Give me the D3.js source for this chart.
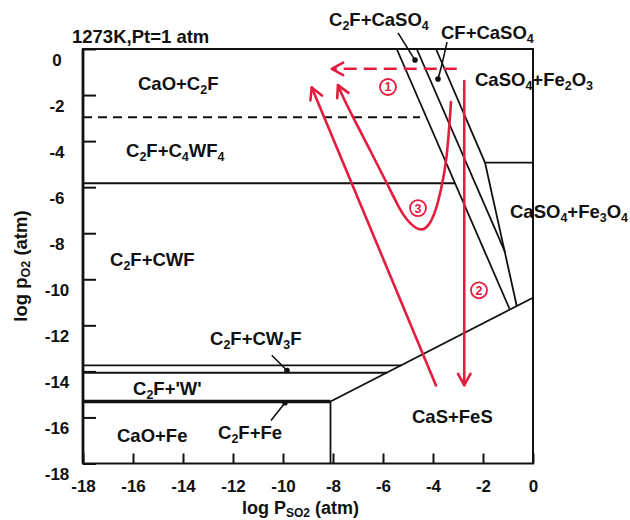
<!DOCTYPE html>
<html>
<head>
<meta charset="utf-8">
<script src="https://cdn.jsdelivr.net/npm/d3@7"></script>
<style>
  html, body { margin: 0; padding: 0; background: #fff; }
  svg { display: block; }
  text { font-family: "Liberation Sans", Arial, Helvetica, sans-serif; font-weight: bold; fill: #111; }
</style>
</head>
<body>
<svg id="chart" width="630" height="520"></svg>
<script>
// ---- Axis definitions (log units) ----
const xDomain = [-18, 0];
const yDomain = [-18, 0];
const xTickValues = [-18, -16, -14, -12, -10, -8, -6, -4, -2, 0];
const yTickValues = [0, -2, -4, -6, -8, -10, -12, -14, -16, -18];

// ---- Phase boundaries: [log pSO2, log pO2] ----
const bCaO_C4WF4   = [[-18, -2.96], [-4.52, -2.96]];             // dashed
const bC4WF4_CWF   = [[-18, -5.83], [-3.12, -5.83]];
const bCWF_CW3F    = [[-18, -13.74], [-5.26, -13.74]];
const bCW3F_W      = [[-18, -14.06], [-5.83, -14.06]];
const bW_Fe        = [[-18, -15.31], [-8.1, -15.31]];            // heavy
const bCaO_C2F_Fe  = [[-8.1, -15.31], [-8.1, -18]];
const bSulfide     = [[-8.1, -15.31], [0, -10.8]];
const bC2F_CaSO4   = [[-5.45, 0], [-0.94, -11.28]];
const bCF_CaSO4    = [[-4.65, 0], [-1.12, -8.81]];
const bCaSO4_Fe2O3 = [[-3.88, 0], [-1.92, -4.93], [-0.65, -11.16]];
const bFe2O3_Fe3O4 = [[-1.92, -4.93], [0, -4.93]];

// ---- Reaction paths ----
const path1 = [[-3.05, -0.86], [-8.05, -0.86]];
const path2 = [[-2.75, -1.39], [-2.75, -14.6]];
const pathLeft = [[-3.88, -14.61], [-8.85, -1.67]];
const path3 = [[-3.28, -2.30], [-3.44, -4.83], [-3.68, -6.13], [-3.88, -7.00], [-4.12, -7.61],
               [-4.40, -7.89], [-4.72, -7.78], [-5.04, -7.43], [-5.32, -7.00], [-5.84, -5.83],
               [-6.52, -4.39], [-7.20, -2.96], [-7.60, -2.09], [-7.80, -1.57]];

// ---- Field names ----
const fieldNames = ["CaO+C{2}F", "C{2}F+C{4}WF{4}", "C{2}F+CWF", "C{2}F+CW{3}F", "C{2}F+'W'",
                    "CaO+Fe", "C{2}F+Fe", "CaS+FeS", "CaSO{4}+Fe{3}O{4}", "CaSO{4}+Fe{2}O{3}",
                    "C{2}F+CaSO{4}", "CF+CaSO{4}"];
const pathNames = ["1", "2", "3"];
const titleText = "1273K,Pt=1 atm";
const xTitle = "log P{SO2} (atm)";
const yTitle = "log p{O2} (atm)";

// ---- Layout ----
const svg = d3.select("#chart");
const x = d3.scaleLinear().domain(xDomain).range([83, 533]);
const y = d3.scaleLinear().domain(yDomain).range([463.5, 49]);
const RED = "#e41c3d";

const fieldPos = [[-15.8, -1.76], [-16.28, -4.67], [-16.92, -9.43], [-12.92, -12.87], [-16.0, -15.04],
                  [-16.64, -17.07], [-12.6, -16.93], [-4.84, -16.25], [-0.92, -7.32], [-2.32, -1.62],
                  [-8.16, 1.0], [-3.68, 0.43]];
const pathLabelPos = [[-5.8, -1.65], [-2.16, -10.48], [-4.6, -6.91]];
const leaders = [
  [[-5.4, 0.70], [-4.72, -0.48]],
  [[-3.44, 0.30], [-3.66, -0.74], [-3.8, -1.30]],
  [[-10.45, -13.30], [-9.84, -13.96]],
  [[-10.48, -16.13], [-9.92, -15.36]]
];

const line = d3.line().x(d => x(d[0])).y(d => y(d[1]));

// writes text with {…} parts as subscripts
function richText(sel, str, size, subSize, shift = 4) {
  const parts = str.split(/(\{[^}]*\})/).filter(s => s.length);
  let lowered = false;
  parts.forEach(p => {
    if (p.startsWith("{")) {
      sel.append("tspan").attr("font-size", subSize).attr("dy", lowered ? 0 : shift)
         .text(p.slice(1, -1));
      lowered = true;
    } else {
      sel.append("tspan").attr("font-size", size).attr("dy", lowered ? -shift : 0).text(p);
      lowered = false;
    }
  });
}

// ---- Axes ----
const xAxis = svg.append("g").attr("transform", `translate(0,${y(-18)})`)
  .call(d3.axisBottom(x).tickValues(xTickValues).tickSize(-10).tickFormat(d3.format("d")));
xAxis.select(".domain").remove();
xAxis.selectAll("line").attr("stroke", "#111").attr("stroke-width", 2);
xAxis.selectAll("text").attr("y", 28.5).attr("dy", 0).attr("font-size", 17)
  .attr("font-family", "Liberation Sans, Arial, sans-serif").attr("font-weight", "bold").attr("fill", "#111")
  .text(d => d === 0 ? "0" : String(d));

const yAxis = svg.append("g").attr("transform", `translate(${x(-18)},0)`)
  .call(d3.axisLeft(y).tickValues(yTickValues).tickSize(-13).tickFormat(d3.format("d")));
yAxis.select(".domain").remove();
yAxis.selectAll("line").attr("stroke", "#111").attr("stroke-width", 2);
yAxis.selectAll("text").attr("x", -26).attr("dy", 0).attr("y", 16).attr("text-anchor", "middle")
  .attr("font-size", 17).attr("font-family", "Liberation Sans, Arial, sans-serif")
  .attr("font-weight", "bold").attr("fill", "#111")
  .text(d => d === 0 ? "0" : String(d));

// ---- Frame ----
svg.append("rect").attr("x", x(-18)).attr("y", y(0))
  .attr("width", x(0) - x(-18)).attr("height", y(-18) - y(0))
  .attr("fill", "none").attr("stroke", "#111").attr("stroke-width", 2);
svg.append("line").attr("x1", x(-18)).attr("x2", x(-18)).attr("y1", y(0)).attr("y2", y(-18))
  .attr("stroke", "#111").attr("stroke-width", 2.8);

// ---- Phase boundaries ----
const g = svg.append("g").attr("fill", "none").attr("stroke", "#111");
[bC4WF4_CWF, bCWF_CW3F, bCW3F_W, bCaO_C2F_Fe, bSulfide, bC2F_CaSO4, bCF_CaSO4,
 bCaSO4_Fe2O3, bFe2O3_Fe3O4].forEach(b => g.append("path").attr("d", line(b)).attr("stroke-width", 1.8));
g.append("path").attr("d", line(bCaO_C4WF4)).attr("stroke-width", 2).attr("stroke-dasharray", "9,6");
g.append("path").attr("d", line(bW_Fe)).attr("stroke-width", 3.6);

// ---- Label leaders ----
leaders.forEach(l => {
  g.append("path").attr("d", d3.line().x(d => x(d[0])).y(d => y(d[1])).curve(d3.curveCatmullRom)(l))
    .attr("stroke-width", 1.6);
  const e = l[l.length - 1];
  svg.append("circle").attr("cx", x(e[0])).attr("cy", y(e[1])).attr("r", 2.8).attr("fill", "#111");
});

// ---- Field labels ----
fieldNames.forEach((n, i) => {
  const t = svg.append("text").attr("x", x(fieldPos[i][0])).attr("y", y(fieldPos[i][1]))
    .attr("font-size", 18.5);
  richText(t, n, 18.5, 12.5);
});

// ---- Title and axis titles ----
svg.append("text").attr("x", 72).attr("y", 42.5).attr("font-size", 18.5).text(titleText);
const xt = svg.append("text").attr("x", 242).attr("y", 514).attr("font-size", 18);
richText(xt, xTitle, 18, 12, 2.5);
const yt = svg.append("text").attr("transform", "translate(27,266) rotate(-90)")
  .attr("text-anchor", "middle").attr("font-size", 18.5);
richText(yt, yTitle, 18.5, 12.5, 3);

// ---- Reaction paths (red) ----
const r = svg.append("g").attr("fill", "none").attr("stroke", RED).attr("stroke-width", 2.6)
  .attr("stroke-linecap", "round").attr("stroke-linejoin", "round");

function arrowHead(tip, from) {
  const tx = x(tip[0]), ty = y(tip[1]);
  const fx = x(from[0]), fy = y(from[1]);
  const a = Math.atan2(fy - ty, fx - tx);
  const L = 13, s = 0.5;
  const p1 = [tx + L * Math.cos(a + s), ty + L * Math.sin(a + s)];
  const p2 = [tx + L * Math.cos(a - s), ty + L * Math.sin(a - s)];
  r.append("path").attr("d", `M${p1[0]},${p1[1]}L${tx},${ty}L${p2[0]},${p2[1]}`);
}

r.append("path").attr("d", line(path1)).attr("stroke-dasharray", "13,7").attr("stroke-linecap", "butt");
arrowHead(path1[1], path1[0]);
r.append("path").attr("d", line(path2));
arrowHead(path2[1], path2[0]);
r.append("path").attr("d", line(pathLeft));
arrowHead(pathLeft[1], pathLeft[0]);
r.append("path").attr("d", d3.line().x(d => x(d[0])).y(d => y(d[1])).curve(d3.curveBasis)(path3));
arrowHead(path3[path3.length - 1], path3[path3.length - 3]);

// circled path numbers
pathNames.forEach((n, i) => {
  const cx = x(pathLabelPos[i][0]), cy = y(pathLabelPos[i][1]);
  svg.append("circle").attr("cx", cx).attr("cy", cy).attr("r", 8)
    .attr("fill", "#fff").attr("stroke", RED).attr("stroke-width", 1.8);
  svg.append("text").attr("x", cx).attr("y", cy + 4.5).attr("text-anchor", "middle")
    .attr("font-size", 12.5).attr("fill", RED).style("fill", RED).text(n);
});
</script>
</body>
</html>
